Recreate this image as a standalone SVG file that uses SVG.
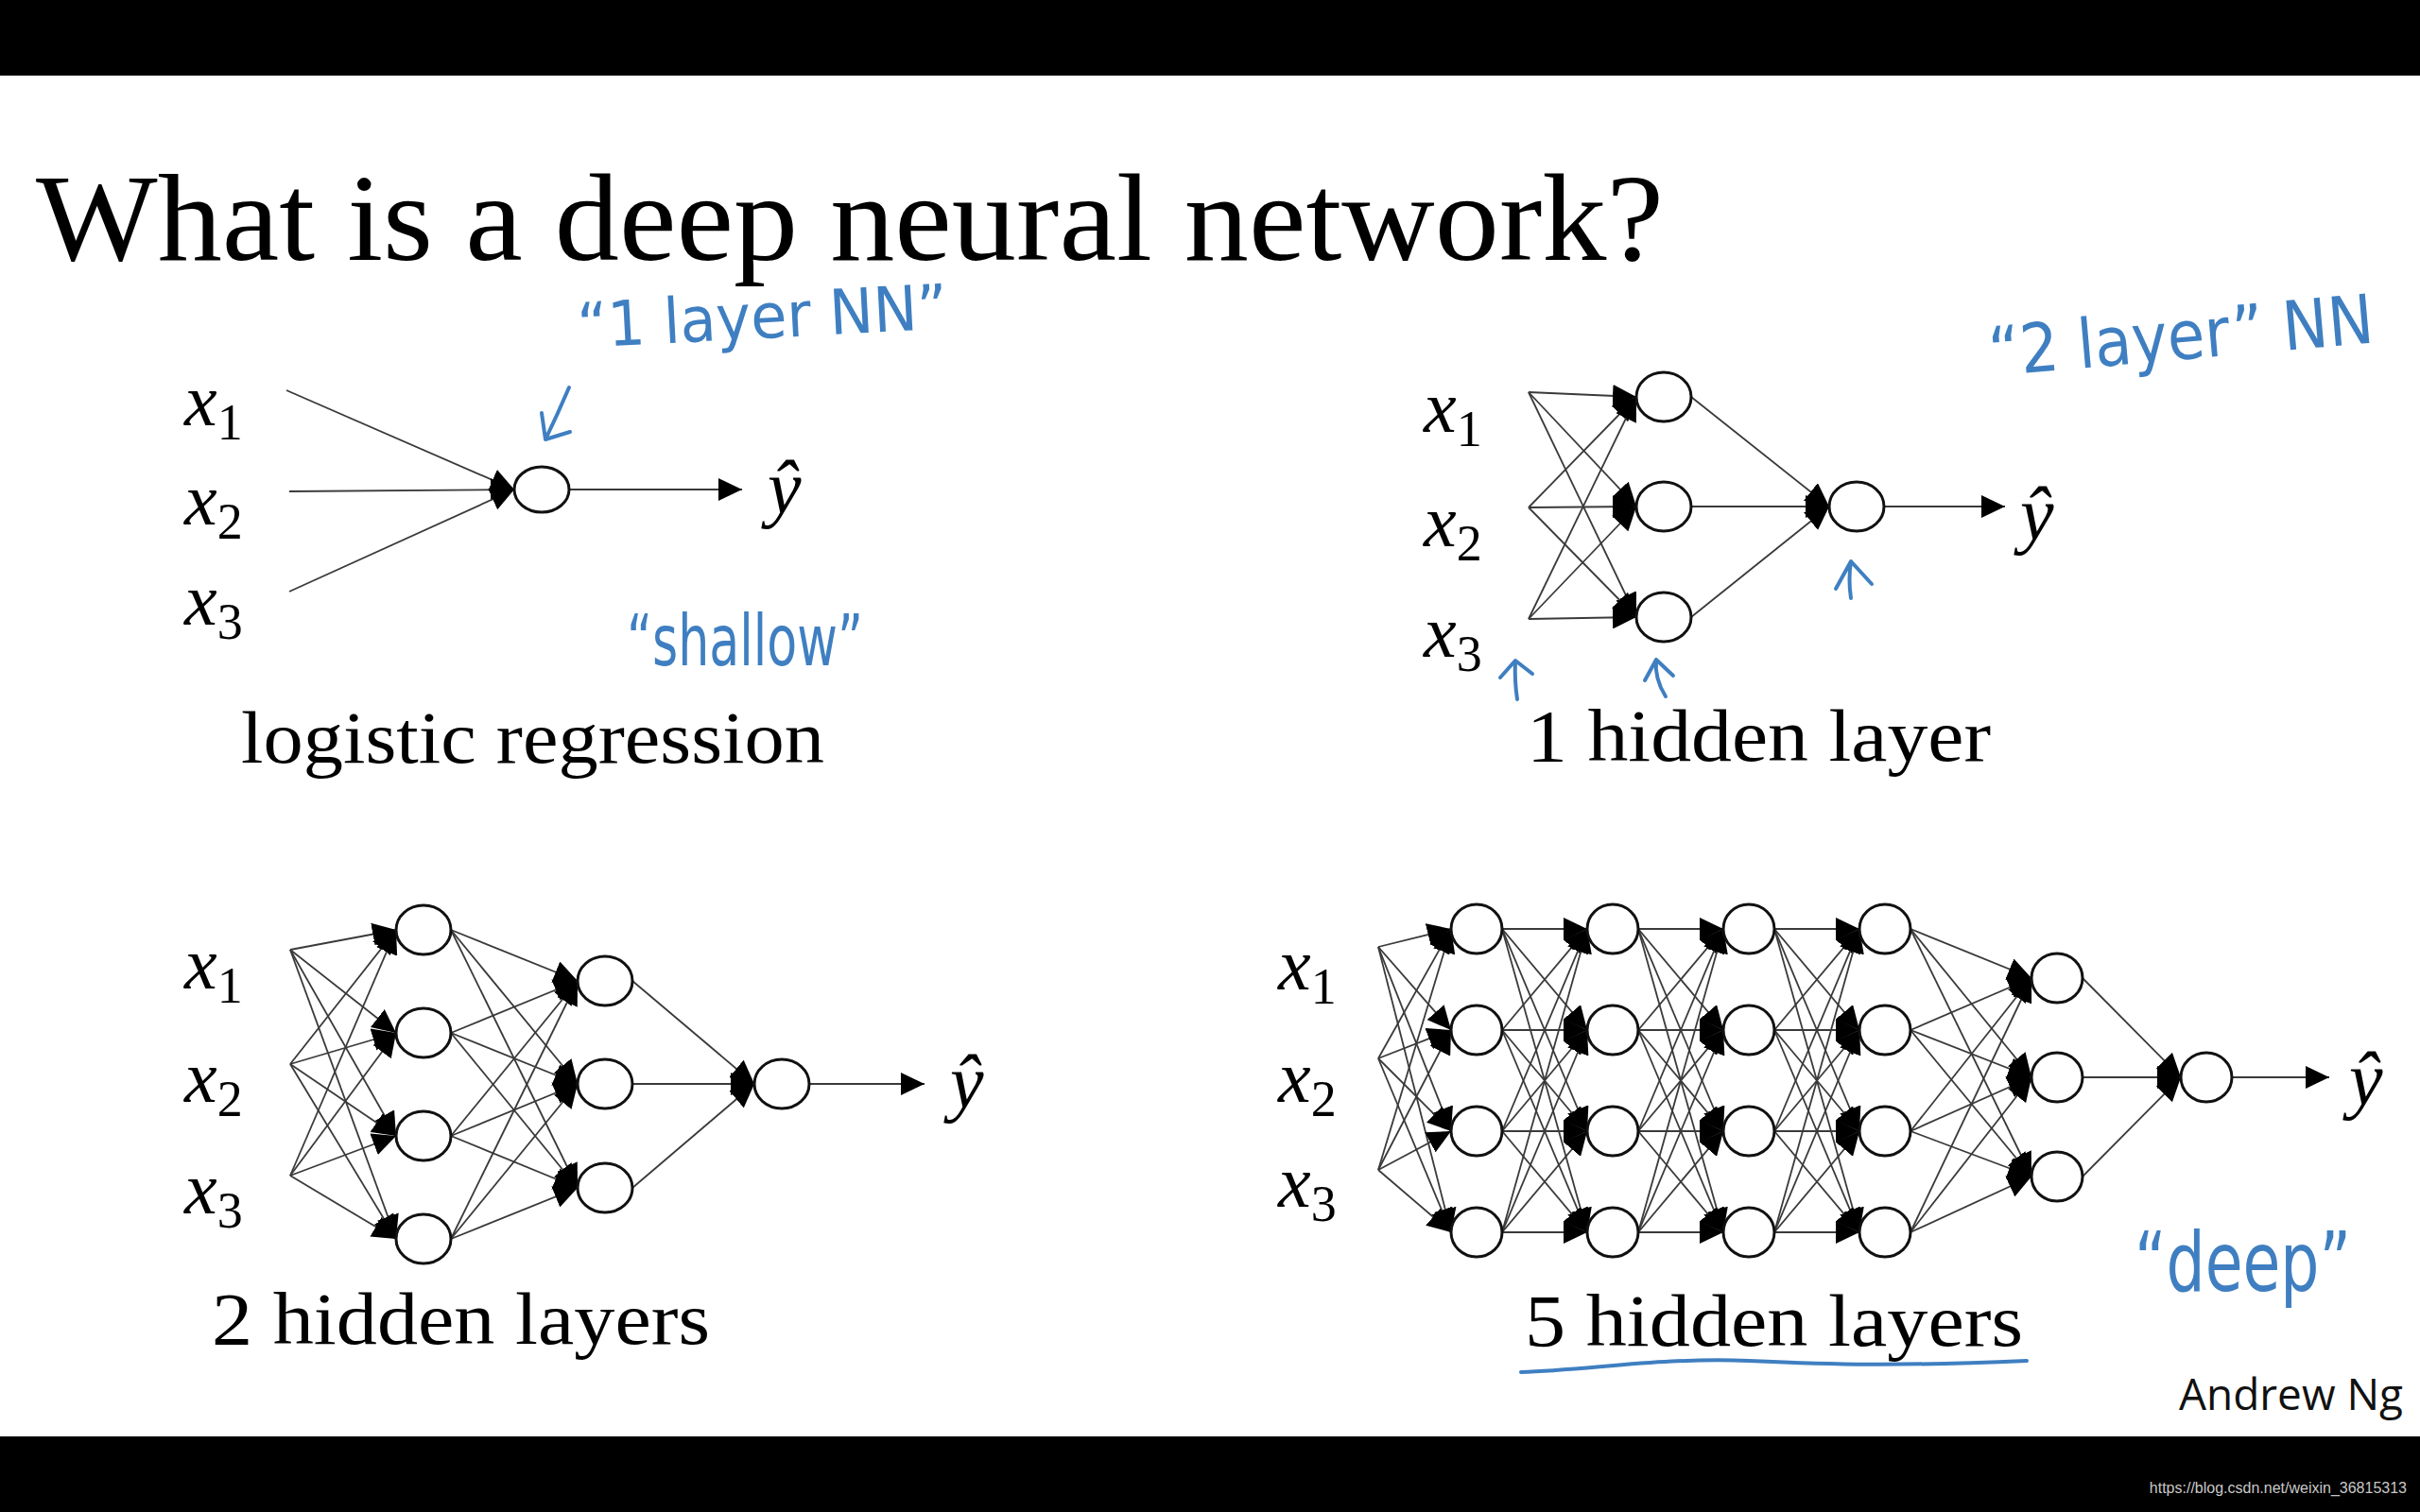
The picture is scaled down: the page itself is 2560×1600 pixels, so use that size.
<svg xmlns="http://www.w3.org/2000/svg" width="2560" height="1600" viewBox="0 0 2560 1600">
<defs>
<marker id="ah" markerUnits="userSpaceOnUse" markerWidth="26" markerHeight="24" refX="25" refY="12" orient="auto" viewBox="0 0 26 24"><path d="M0,0 L25,12 L0,24 z" fill="#000"/></marker>
<style>
.bar{fill:#000}
.n{fill:#fff;stroke:#111;stroke-width:3}
.e{stroke:#3a3a3a;stroke-width:1.8;fill:none;marker-end:url(#ah)}
.t{font-family:"Liberation Serif","DejaVu Serif",serif;fill:#000}
.x{font-family:"Liberation Serif","DejaVu Serif",serif;font-style:italic;font-size:78px;fill:#000}
.sub{font-style:normal;font-size:54px}
.yh{font-family:"Liberation Serif","DejaVu Serif",serif;font-style:italic;font-size:80px;fill:#000}
.lab{font-family:"Liberation Serif","DejaVu Serif",serif;font-size:79px;fill:#000}
.hw{font-family:"Liberation Sans Narrow","DejaVu Sans Condensed","Liberation Sans",sans-serif;fill:#3f7fc1}
.pen{fill:none;stroke:#3f7fc1;stroke-width:4;stroke-linecap:round;stroke-linejoin:round}
</style>
</defs>
<rect x="0" y="0" width="2560" height="1600" fill="#fff"/>
<rect class="bar" x="0" y="0" width="2560" height="80"/>
<rect class="bar" x="0" y="1520" width="2560" height="80"/>

<text class="t" x="38" y="275" font-size="131" textLength="1722" lengthAdjust="spacingAndGlyphs">What is a deep neural network?</text>

<g id="connectors">
<!-- logistic regression -->
<line class="e" x1="303" y1="413" x2="544" y2="518"/>
<line class="e" x1="306" y1="520" x2="544" y2="518"/>
<line class="e" x1="306" y1="626" x2="544" y2="518"/>
<line class="e" x1="602" y1="518" x2="785" y2="518"/>
<!-- 1 hidden layer -->
<line class="e" x1="1617" y1="415" x2="1731" y2="420"/>
<line class="e" x1="1617" y1="415" x2="1731" y2="536"/>
<line class="e" x1="1617" y1="415" x2="1731" y2="653"/>
<line class="e" x1="1617" y1="537" x2="1731" y2="420"/>
<line class="e" x1="1617" y1="537" x2="1731" y2="536"/>
<line class="e" x1="1617" y1="537" x2="1731" y2="653"/>
<line class="e" x1="1617" y1="655" x2="1731" y2="420"/>
<line class="e" x1="1617" y1="655" x2="1731" y2="536"/>
<line class="e" x1="1617" y1="655" x2="1731" y2="653"/>
<line class="e" x1="1789" y1="420" x2="1935" y2="536"/>
<line class="e" x1="1789" y1="536" x2="1935" y2="536"/>
<line class="e" x1="1789" y1="653" x2="1935" y2="536"/>
<line class="e" x1="1993" y1="536" x2="2121" y2="536"/>
<!-- 2 hidden layers -->
<line class="e" x1="307" y1="1005" x2="419" y2="984"/>
<line class="e" x1="307" y1="1005" x2="419" y2="1093"/>
<line class="e" x1="307" y1="1005" x2="419" y2="1202"/>
<line class="e" x1="307" y1="1005" x2="419" y2="1311"/>
<line class="e" x1="307" y1="1126" x2="419" y2="984"/>
<line class="e" x1="307" y1="1126" x2="419" y2="1093"/>
<line class="e" x1="307" y1="1126" x2="419" y2="1202"/>
<line class="e" x1="307" y1="1126" x2="419" y2="1311"/>
<line class="e" x1="307" y1="1244" x2="419" y2="984"/>
<line class="e" x1="307" y1="1244" x2="419" y2="1093"/>
<line class="e" x1="307" y1="1244" x2="419" y2="1202"/>
<line class="e" x1="307" y1="1244" x2="419" y2="1311"/>
<line class="e" x1="477" y1="984" x2="611" y2="1038"/>
<line class="e" x1="477" y1="984" x2="611" y2="1147"/>
<line class="e" x1="477" y1="984" x2="611" y2="1257"/>
<line class="e" x1="477" y1="1093" x2="611" y2="1038"/>
<line class="e" x1="477" y1="1093" x2="611" y2="1147"/>
<line class="e" x1="477" y1="1093" x2="611" y2="1257"/>
<line class="e" x1="477" y1="1202" x2="611" y2="1038"/>
<line class="e" x1="477" y1="1202" x2="611" y2="1147"/>
<line class="e" x1="477" y1="1202" x2="611" y2="1257"/>
<line class="e" x1="477" y1="1311" x2="611" y2="1038"/>
<line class="e" x1="477" y1="1311" x2="611" y2="1147"/>
<line class="e" x1="477" y1="1311" x2="611" y2="1257"/>
<line class="e" x1="669" y1="1038" x2="798" y2="1147"/>
<line class="e" x1="669" y1="1147" x2="798" y2="1147"/>
<line class="e" x1="669" y1="1257" x2="798" y2="1147"/>
<line class="e" x1="856" y1="1147" x2="978" y2="1147"/>
<!-- 5 hidden layers: input -> L1 -->
<line class="e" x1="1458" y1="1002" x2="1535" y2="983"/>
<line class="e" x1="1458" y1="1002" x2="1535" y2="1090"/>
<line class="e" x1="1458" y1="1002" x2="1535" y2="1197"/>
<line class="e" x1="1458" y1="1002" x2="1535" y2="1304"/>
<line class="e" x1="1458" y1="1120" x2="1535" y2="983"/>
<line class="e" x1="1458" y1="1120" x2="1535" y2="1090"/>
<line class="e" x1="1458" y1="1120" x2="1535" y2="1197"/>
<line class="e" x1="1458" y1="1120" x2="1535" y2="1304"/>
<line class="e" x1="1458" y1="1238" x2="1535" y2="983"/>
<line class="e" x1="1458" y1="1238" x2="1535" y2="1090"/>
<line class="e" x1="1458" y1="1238" x2="1535" y2="1197"/>
<line class="e" x1="1458" y1="1238" x2="1535" y2="1304"/>
<!-- L1 -> L2 -->
<line class="e" x1="1589" y1="983" x2="1679" y2="983"/>
<line class="e" x1="1589" y1="983" x2="1679" y2="1090"/>
<line class="e" x1="1589" y1="983" x2="1679" y2="1197"/>
<line class="e" x1="1589" y1="983" x2="1679" y2="1304"/>
<line class="e" x1="1589" y1="1090" x2="1679" y2="983"/>
<line class="e" x1="1589" y1="1090" x2="1679" y2="1090"/>
<line class="e" x1="1589" y1="1090" x2="1679" y2="1197"/>
<line class="e" x1="1589" y1="1090" x2="1679" y2="1304"/>
<line class="e" x1="1589" y1="1197" x2="1679" y2="983"/>
<line class="e" x1="1589" y1="1197" x2="1679" y2="1090"/>
<line class="e" x1="1589" y1="1197" x2="1679" y2="1197"/>
<line class="e" x1="1589" y1="1197" x2="1679" y2="1304"/>
<line class="e" x1="1589" y1="1304" x2="1679" y2="983"/>
<line class="e" x1="1589" y1="1304" x2="1679" y2="1090"/>
<line class="e" x1="1589" y1="1304" x2="1679" y2="1197"/>
<line class="e" x1="1589" y1="1304" x2="1679" y2="1304"/>
<!-- L2 -> L3 -->
<line class="e" x1="1733" y1="983" x2="1823" y2="983"/>
<line class="e" x1="1733" y1="983" x2="1823" y2="1090"/>
<line class="e" x1="1733" y1="983" x2="1823" y2="1197"/>
<line class="e" x1="1733" y1="983" x2="1823" y2="1304"/>
<line class="e" x1="1733" y1="1090" x2="1823" y2="983"/>
<line class="e" x1="1733" y1="1090" x2="1823" y2="1090"/>
<line class="e" x1="1733" y1="1090" x2="1823" y2="1197"/>
<line class="e" x1="1733" y1="1090" x2="1823" y2="1304"/>
<line class="e" x1="1733" y1="1197" x2="1823" y2="983"/>
<line class="e" x1="1733" y1="1197" x2="1823" y2="1090"/>
<line class="e" x1="1733" y1="1197" x2="1823" y2="1197"/>
<line class="e" x1="1733" y1="1197" x2="1823" y2="1304"/>
<line class="e" x1="1733" y1="1304" x2="1823" y2="983"/>
<line class="e" x1="1733" y1="1304" x2="1823" y2="1090"/>
<line class="e" x1="1733" y1="1304" x2="1823" y2="1197"/>
<line class="e" x1="1733" y1="1304" x2="1823" y2="1304"/>
<!-- L3 -> L4 -->
<line class="e" x1="1877" y1="983" x2="1967" y2="983"/>
<line class="e" x1="1877" y1="983" x2="1967" y2="1090"/>
<line class="e" x1="1877" y1="983" x2="1967" y2="1197"/>
<line class="e" x1="1877" y1="983" x2="1967" y2="1304"/>
<line class="e" x1="1877" y1="1090" x2="1967" y2="983"/>
<line class="e" x1="1877" y1="1090" x2="1967" y2="1090"/>
<line class="e" x1="1877" y1="1090" x2="1967" y2="1197"/>
<line class="e" x1="1877" y1="1090" x2="1967" y2="1304"/>
<line class="e" x1="1877" y1="1197" x2="1967" y2="983"/>
<line class="e" x1="1877" y1="1197" x2="1967" y2="1090"/>
<line class="e" x1="1877" y1="1197" x2="1967" y2="1197"/>
<line class="e" x1="1877" y1="1197" x2="1967" y2="1304"/>
<line class="e" x1="1877" y1="1304" x2="1967" y2="983"/>
<line class="e" x1="1877" y1="1304" x2="1967" y2="1090"/>
<line class="e" x1="1877" y1="1304" x2="1967" y2="1197"/>
<line class="e" x1="1877" y1="1304" x2="1967" y2="1304"/>
<!-- L4 -> L5 -->
<line class="e" x1="2021" y1="983" x2="2149" y2="1035"/>
<line class="e" x1="2021" y1="983" x2="2149" y2="1140"/>
<line class="e" x1="2021" y1="983" x2="2149" y2="1245"/>
<line class="e" x1="2021" y1="1090" x2="2149" y2="1035"/>
<line class="e" x1="2021" y1="1090" x2="2149" y2="1140"/>
<line class="e" x1="2021" y1="1090" x2="2149" y2="1245"/>
<line class="e" x1="2021" y1="1197" x2="2149" y2="1035"/>
<line class="e" x1="2021" y1="1197" x2="2149" y2="1140"/>
<line class="e" x1="2021" y1="1197" x2="2149" y2="1245"/>
<line class="e" x1="2021" y1="1304" x2="2149" y2="1035"/>
<line class="e" x1="2021" y1="1304" x2="2149" y2="1140"/>
<line class="e" x1="2021" y1="1304" x2="2149" y2="1245"/>
<!-- L5 -> out -->
<line class="e" x1="2203" y1="1035" x2="2307" y2="1140"/>
<line class="e" x1="2203" y1="1140" x2="2307" y2="1140"/>
<line class="e" x1="2203" y1="1245" x2="2307" y2="1140"/>
<line class="e" x1="2361" y1="1140" x2="2464" y2="1140"/>
</g>

<!-- logistic regression -->
<g id="lr-out"><ellipse class="n" cx="573" cy="518" rx="29" ry="24"/></g>
<g id="lr-inputs">
<text class="x" x="195" y="450">x<tspan class="sub" dy="15">1</tspan></text>
<text class="x" x="195" y="555">x<tspan class="sub" dy="15">2</tspan></text>
<text class="x" x="195" y="661">x<tspan class="sub" dy="15">3</tspan></text>
</g>
<g id="lr-yhat"><text class="yh" x="812" y="543">ŷ</text></g>
<text class="lab" x="255" y="807" textLength="617" lengthAdjust="spacingAndGlyphs">logistic regression</text>

<!-- 1 hidden layer -->
<g id="n1-h1"><ellipse class="n" cx="1760" cy="420" rx="29" ry="26"/></g>
<g id="n1-h2"><ellipse class="n" cx="1760" cy="536" rx="29" ry="26"/></g>
<g id="n1-h3"><ellipse class="n" cx="1760" cy="653" rx="29" ry="26"/></g>
<g id="n1-out"><ellipse class="n" cx="1964" cy="536" rx="29" ry="26"/></g>
<g id="n1-inputs">
<text class="x" x="1506" y="457">x<tspan class="sub" dy="15">1</tspan></text>
<text class="x" x="1506" y="578">x<tspan class="sub" dy="15">2</tspan></text>
<text class="x" x="1506" y="695">x<tspan class="sub" dy="15">3</tspan></text>
</g>
<g id="n1-yhat"><text class="yh" x="2137" y="571">ŷ</text></g>
<text class="lab" x="1615" y="805" textLength="491" lengthAdjust="spacingAndGlyphs">1 hidden layer</text>

<!-- 2 hidden layers -->
<g id="n2-a1"><ellipse class="n" cx="448" cy="984" rx="29" ry="26"/></g>
<g id="n2-a2"><ellipse class="n" cx="448" cy="1093" rx="29" ry="26"/></g>
<g id="n2-a3"><ellipse class="n" cx="448" cy="1202" rx="29" ry="26"/></g>
<g id="n2-a4"><ellipse class="n" cx="448" cy="1311" rx="29" ry="26"/></g>
<g id="n2-b1"><ellipse class="n" cx="640" cy="1038" rx="29" ry="26"/></g>
<g id="n2-b2"><ellipse class="n" cx="640" cy="1147" rx="29" ry="26"/></g>
<g id="n2-b3"><ellipse class="n" cx="640" cy="1257" rx="29" ry="26"/></g>
<g id="n2-out"><ellipse class="n" cx="827" cy="1147" rx="29" ry="26"/></g>
<g id="n2-inputs">
<text class="x" x="195" y="1046">x<tspan class="sub" dy="15">1</tspan></text>
<text class="x" x="195" y="1166">x<tspan class="sub" dy="15">2</tspan></text>
<text class="x" x="195" y="1284">x<tspan class="sub" dy="15">3</tspan></text>
</g>
<g id="n2-yhat"><text class="yh" x="1005" y="1172">ŷ</text></g>
<text class="lab" x="224" y="1422" textLength="527" lengthAdjust="spacingAndGlyphs">2 hidden layers</text>

<!-- 5 hidden layers -->
<g id="n5-l1r1"><ellipse class="n" cx="1562" cy="983" rx="27" ry="26"/></g>
<g id="n5-l1r2"><ellipse class="n" cx="1562" cy="1090" rx="27" ry="26"/></g>
<g id="n5-l1r3"><ellipse class="n" cx="1562" cy="1197" rx="27" ry="26"/></g>
<g id="n5-l1r4"><ellipse class="n" cx="1562" cy="1304" rx="27" ry="26"/></g>
<g id="n5-l2r1"><ellipse class="n" cx="1706" cy="983" rx="27" ry="26"/></g>
<g id="n5-l2r2"><ellipse class="n" cx="1706" cy="1090" rx="27" ry="26"/></g>
<g id="n5-l2r3"><ellipse class="n" cx="1706" cy="1197" rx="27" ry="26"/></g>
<g id="n5-l2r4"><ellipse class="n" cx="1706" cy="1304" rx="27" ry="26"/></g>
<g id="n5-l3r1"><ellipse class="n" cx="1850" cy="983" rx="27" ry="26"/></g>
<g id="n5-l3r2"><ellipse class="n" cx="1850" cy="1090" rx="27" ry="26"/></g>
<g id="n5-l3r3"><ellipse class="n" cx="1850" cy="1197" rx="27" ry="26"/></g>
<g id="n5-l3r4"><ellipse class="n" cx="1850" cy="1304" rx="27" ry="26"/></g>
<g id="n5-l4r1"><ellipse class="n" cx="1994" cy="983" rx="27" ry="26"/></g>
<g id="n5-l4r2"><ellipse class="n" cx="1994" cy="1090" rx="27" ry="26"/></g>
<g id="n5-l4r3"><ellipse class="n" cx="1994" cy="1197" rx="27" ry="26"/></g>
<g id="n5-l4r4"><ellipse class="n" cx="1994" cy="1304" rx="27" ry="26"/></g>
<g id="n5-l5r1"><ellipse class="n" cx="2176" cy="1035" rx="27" ry="26"/></g>
<g id="n5-l5r2"><ellipse class="n" cx="2176" cy="1140" rx="27" ry="26"/></g>
<g id="n5-l5r3"><ellipse class="n" cx="2176" cy="1245" rx="27" ry="26"/></g>
<g id="n5-out"><ellipse class="n" cx="2334" cy="1140" rx="27" ry="26"/></g>
<g id="n5-inputs">
<text class="x" x="1352" y="1047">x<tspan class="sub" dy="15">1</tspan></text>
<text class="x" x="1352" y="1166">x<tspan class="sub" dy="15">2</tspan></text>
<text class="x" x="1352" y="1277">x<tspan class="sub" dy="15">3</tspan></text>
</g>
<g id="n5-yhat"><text class="yh" x="2485" y="1169">ŷ</text></g>
<text class="lab" x="1613" y="1424" textLength="527" lengthAdjust="spacingAndGlyphs">5 hidden layers</text>

<!-- handwritten annotations -->
<g id="annotations">
<text class="hw" x="612" y="368" font-size="66" textLength="392" lengthAdjust="spacingAndGlyphs" transform="rotate(-3 612 368)">“1 layer NN”</text>
<path class="pen" d="M602,410 Q590,438 577,465 M573,437 L577,465 L603,457"/>
<text class="hw" x="663" y="704" font-size="74" textLength="250" lengthAdjust="spacingAndGlyphs">“shallow”</text>
<text class="hw" x="2106" y="398" font-size="72" textLength="408" lengthAdjust="spacingAndGlyphs" transform="rotate(-5 2106 398)">“2 layer” NN</text>
<path class="pen" d="M1605,740 Q1602,720 1603,700 M1587,717 L1603,699 L1621,713"/>
<path class="pen" d="M1762,737 Q1750,718 1752,698 M1740,720 L1752,698 L1770,715"/>
<path class="pen" d="M1958,633 Q1955,613 1958,594 M1942,623 L1958,594 L1980,618"/>
<text class="hw" x="2258" y="1366" font-size="88" textLength="229" lengthAdjust="spacingAndGlyphs">“deep”</text>
<path class="pen" d="M1609,1452 C1680,1450 1760,1436 1850,1440 S2000,1446 2144,1440"/>
</g>

<text x="2305" y="1492" font-family="'Open Sans','Liberation Sans',sans-serif" font-size="46" fill="#111" textLength="237" lengthAdjust="spacingAndGlyphs">Andrew Ng</text>
<text x="2546" y="1580" text-anchor="end" font-family="'Liberation Sans',Arial,sans-serif" font-size="16" fill="#c8c8c8">https://blog.csdn.net/weixin_36815313</text>
</svg>
